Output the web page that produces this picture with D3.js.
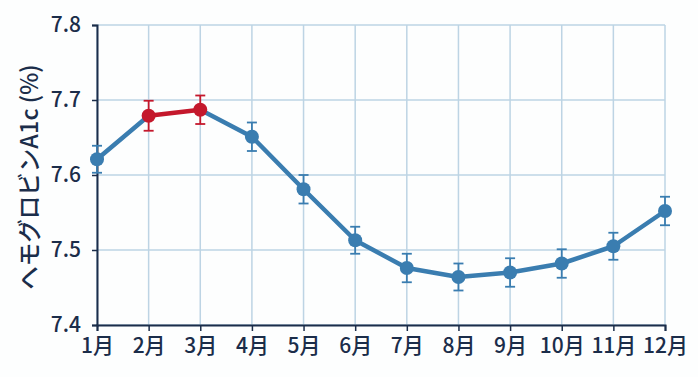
<!DOCTYPE html>
<html lang="ja">
<head>
<meta charset="UTF-8" />
<title>ヘモグロビンA1c</title>
<script src="https://cdn.jsdelivr.net/npm/d3@7"></script>
<style>
  body { margin: 0; background: #fdfefe; }
  text { font-family: "Noto Sans CJK JP", "Noto Sans", sans-serif; fill: #1b2d4a; }
</style>
</head>
<body>
<svg id="chart" width="698" height="377"></svg>
<script>
var months = ["1月","2月","3月","4月","5月","6月","7月","8月","9月","10月","11月","12月"];
var a1c    = [7.621, 7.679, 7.687, 7.651, 7.581, 7.513, 7.476, 7.464, 7.470, 7.482, 7.505, 7.552];
var errs   = [0.018, 0.020, 0.019, 0.019, 0.019, 0.018, 0.019, 0.018, 0.019, 0.019, 0.018, 0.019];
var highlight = ["2月","3月"];
var yTicks = [7.4, 7.5, 7.6, 7.7, 7.8];

var margin = {top: 25, right: 33, bottom: 52, left: 97};
var width = 698 - margin.left - margin.right;
var height = 377 - margin.top - margin.bottom;

var blue = "#3a7db0", red = "#c4182c", grid = "#bdd4e4", axisCol = "#1b2d4a";

var svg = d3.select("#chart");
var g = svg.append("g").attr("transform", "translate(" + margin.left + "," + margin.top + ")");

var x = d3.scalePoint().domain(months).range([0, width]);
var y = d3.scaleLinear().domain([7.4, 7.8]).range([height, 0]);

// grid
g.selectAll(".vgrid").data(months).enter().append("line")
  .attr("x1", d => x(d)).attr("x2", d => x(d))
  .attr("y1", 0).attr("y2", height)
  .attr("stroke", grid).attr("stroke-width", 1.5);
g.selectAll(".hgrid").data(yTicks).enter().append("line")
  .attr("x1", 0).attr("x2", width)
  .attr("y1", d => y(d)).attr("y2", d => y(d))
  .attr("stroke", grid).attr("stroke-width", 1.5);

// axes
var xAxis = g.append("g").attr("transform", "translate(0," + height + ")")
  .call(d3.axisBottom(x).tickSize(6).tickPadding(7));
var yAxis = g.append("g")
  .call(d3.axisLeft(y).tickValues(yTicks).tickSize(5).tickPadding(11).tickFormat(d3.format(".1f")));
[xAxis, yAxis].forEach(function(a) {
  a.attr("font-size", null);
  a.select(".domain").attr("stroke", axisCol).attr("stroke-width", 2);
  a.selectAll(".tick line").attr("stroke", axisCol).attr("stroke-width", 1.5);
  a.selectAll(".tick text").style("font-size", "21px").style("font-weight", 500).style("fill", axisCol);
});

svg.append("text")
  .attr("transform", "translate(32," + (margin.top + height / 2 + 2) + ") rotate(-90)")
  .attr("text-anchor", "middle").attr("dominant-baseline", "middle")
  .style("font-size", "23.5px").style("font-weight", 500)
  .text("ヘモグロビンA1c (%)");

var data = months.map(function(m, i) { return {m: m, v: a1c[i], e: errs[i]}; });

// line segments
var segs = [];
for (var i = 0; i < data.length - 1; i++) {
  var hot = highlight.indexOf(data[i].m) >= 0 && highlight.indexOf(data[i + 1].m) >= 0;
  segs.push({a: data[i], b: data[i + 1], c: hot ? red : blue});
}
g.selectAll(".seg").data(segs).enter().append("line")
  .attr("x1", d => x(d.a.m)).attr("y1", d => y(d.a.v))
  .attr("x2", d => x(d.b.m)).attr("y2", d => y(d.b.v))
  .attr("stroke", d => d.c).attr("stroke-width", 4.5).attr("stroke-linecap", "round");

function col(d) { return highlight.indexOf(d.m) >= 0 ? red : blue; }

// error bars
var eb = g.selectAll(".err").data(data).enter().append("g").attr("stroke", col).attr("stroke-width", 1.8);
eb.append("line").attr("x1", d => x(d.m)).attr("x2", d => x(d.m))
  .attr("y1", d => y(d.v - d.e)).attr("y2", d => y(d.v + d.e));
eb.append("line").attr("x1", d => x(d.m) - 5).attr("x2", d => x(d.m) + 5)
  .attr("y1", d => y(d.v + d.e)).attr("y2", d => y(d.v + d.e));
eb.append("line").attr("x1", d => x(d.m) - 5).attr("x2", d => x(d.m) + 5)
  .attr("y1", d => y(d.v - d.e)).attr("y2", d => y(d.v - d.e));

g.selectAll(".pt").data(data).enter().append("circle")
  .attr("cx", d => x(d.m)).attr("cy", d => y(d.v)).attr("r", 7)
  .attr("fill", col);
</script>
</body>
</html>
